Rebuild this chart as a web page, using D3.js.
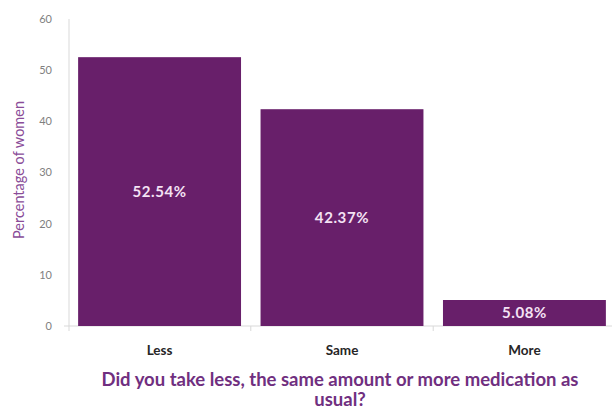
<!DOCTYPE html>
<html>
<meta charset="utf-8"/>
<head>
  <title>Medication</title>
  <script src="https://d3js.org/d3.v7.min.js"></script>
  <style>
    body { margin: 0; background: #fff; }
    text { font-family: Lato, "Open Sans", sans-serif; }
  </style>
</head>
<body>
<script>
  // data
  var categories = ["Less", "Same", "More"];
  var values = [52.54, 42.37, 5.08];
  var yTicks = [0, 10, 20, 30, 40, 50, 60];

  var W = 612, H = 409;
  var svg = d3.select("body").append("svg")
      .attr("width", W)
      .attr("height", H);

  var x = d3.scaleBand()
      .domain(categories)
      .range([69, 615])
      .paddingInner(0.107)
      .paddingOuter(0.05);

  var y = d3.scaleLinear()
      .domain([0, 60])
      .range([326, 19]);

  // axes lines
  svg.append("line")
      .attr("x1", 69).attr("x2", 69)
      .attr("y1", y(60)).attr("y2", y(0))
      .style("stroke", "#d9d9d9");
  svg.append("line")
      .attr("x1", 64).attr("x2", 612)
      .attr("y1", y(0)).attr("y2", y(0))
      .style("stroke", "#d9d9d9");

  // x ticks between categories
  var tickX = [69].concat(categories.map(function(c){ return x(c) + x.bandwidth() + x.step()*x.paddingInner()/2; }));
  tickX.forEach(function(t){
    svg.append("line")
      .attr("x1", t).attr("x2", t)
      .attr("y1", y(0)).attr("y2", y(0) + 5)
      .style("stroke", "#d9d9d9");
  });

  // y tick labels
  svg.selectAll(".ytick")
      .data(yTicks)
      .enter().append("text")
      .attr("class", "ytick")
      .attr("x", 52)
      .attr("y", function(d){ return y(d); })
      .attr("dy", "0.35em")
      .attr("text-anchor", "end")
      .style("font-size", "11px")
      .style("fill", "#7f7f7f")
      .text(function(d){ return d; });

  // bars
  svg.selectAll(".bar")
      .data(values)
      .enter().append("rect")
      .attr("class", "bar")
      .attr("x", function(d, i){ return x(categories[i]); })
      .attr("width", x.bandwidth())
      .attr("y", function(d){ return y(d); })
      .attr("height", function(d){ return y(0) - y(d); })
      .style("fill", "#681f6a");

  // value labels
  svg.selectAll(".val")
      .data(values)
      .enter().append("text")
      .attr("class", "val")
      .attr("x", function(d, i){ return x(categories[i]) + x.bandwidth()/2; })
      .attr("y", function(d){ return (y(d) + y(0))/2; })
      .attr("dy", "0.35em")
      .attr("text-anchor", "middle")
      .style("font-size", "15px")
      .style("letter-spacing", "0.6px")
      .style("font-weight", "bold")
      .style("fill", "#f4e2f4")
      .text(function(d){ return d.toFixed(2) + "%"; });

  // category labels
  svg.selectAll(".cat")
      .data(categories)
      .enter().append("text")
      .attr("class", "cat")
      .attr("x", function(d){ return x(d) + x.bandwidth()/2; })
      .attr("y", 350)
      .attr("dy", "0.35em")
      .attr("text-anchor", "middle")
      .style("font-size", "13.5px")
      .style("font-weight", "bold")
      .style("fill", "#262626")
      .text(function(d){ return d; });

  // y title
  svg.append("text")
      .attr("transform", "translate(19,170) rotate(-90)")
      .attr("text-anchor", "middle")
      .attr("dy", "0.35em")
      .style("font-size", "14.5px")
      .style("fill", "#8a4c98")
      .text("Percentage of women");

  // x title
  var xt = svg.append("text")
      .attr("text-anchor", "middle")
      .style("font-size", "18.5px")
      .style("font-weight", "bold")
      .style("fill", "#702f80");
  xt.append("tspan").attr("x", 340).attr("y", 386).text("Did you take less, the same amount or more medication as");
  xt.append("tspan").attr("x", 340).attr("y", 406).text("usual?");
</script>
</body>
</html>
